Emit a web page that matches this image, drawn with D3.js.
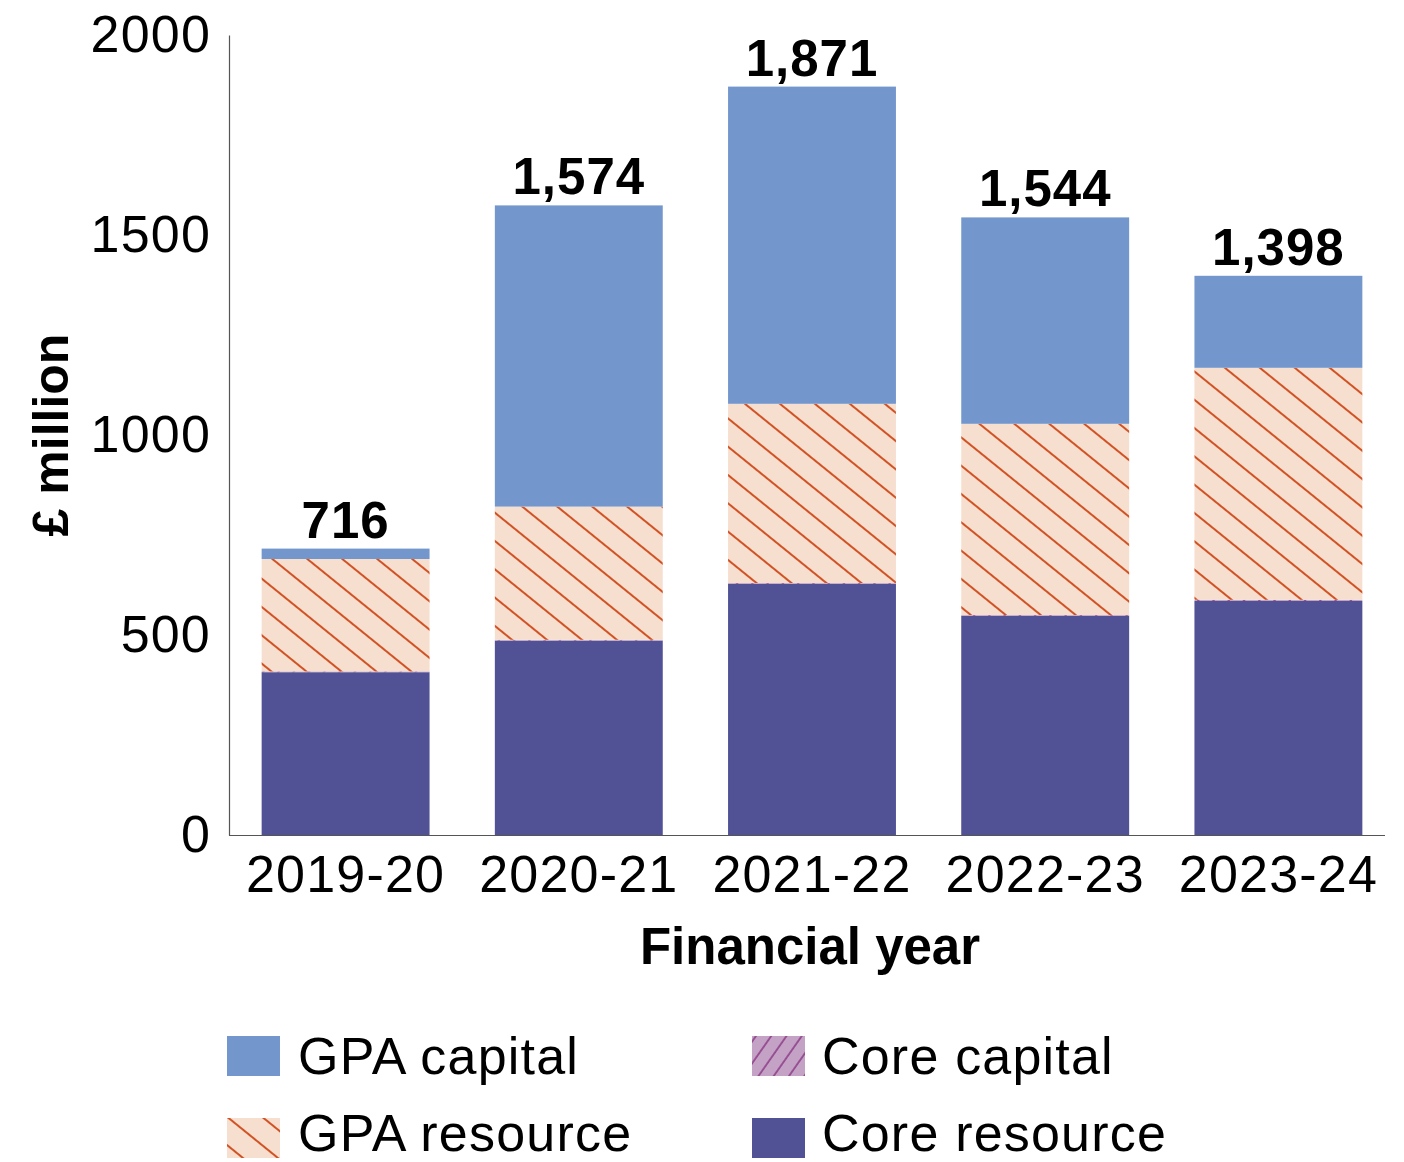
<!DOCTYPE html>
<html>
<head>
<meta charset="utf-8">
<script src="https://cdn.jsdelivr.net/npm/d3@7"></script>
<style>
  html, body { margin: 0; padding: 0; background: #fff; }
  svg text { font-family: "Liberation Sans", Arial, Helvetica, sans-serif; fill: #000; }
</style>
</head>
<body>
<svg id="chart" width="1404" height="1162"></svg>
<script>
const years = ["2019-20", "2020-21", "2021-22", "2022-23", "2023-24"];
const coreResource = [407, 486, 628, 548, 585];
const coreCapital = [2, 2, 2, 2, 3];
const gpaResource = [281, 333, 448, 478, 580];
const gpaCapital = [26, 753, 793, 516, 230];
const totals = [716, 1574, 1871, 1544, 1398];
const totalLabels = ["716", "1,574", "1,871", "1,544", "1,398"];
const yTicks = [0, 500, 1000, 1500, 2000];
const seriesNames = ["Core resource", "Core capital", "GPA resource", "GPA capital"];
const legendOrder = ["GPA capital", "Core capital", "GPA resource", "Core resource"];

const svg = d3.select("#chart");
const defs = svg.append("defs");

// hatch patterns
const pRes = defs.append("pattern")
  .attr("id", "hatchRes").attr("patternUnits", "userSpaceOnUse")
  .attr("width", 22).attr("height", 22)
  .attr("patternTransform", "rotate(-51)");
pRes.append("rect").attr("width", 22).attr("height", 22).attr("fill", "#F7DFCF");
pRes.append("line").attr("x1", 1).attr("y1", 0).attr("x2", 1).attr("y2", 22)
  .attr("stroke", "#CF4B1C").attr("stroke-width", 1.9);

const pCap = defs.append("pattern")
  .attr("id", "hatchCap").attr("patternUnits", "userSpaceOnUse")
  .attr("width", 12.5).attr("height", 12.5)
  .attr("patternTransform", "rotate(35)");
pCap.append("rect").attr("width", 12.5).attr("height", 12.5).attr("fill", "#C4A2C6");
pCap.append("line").attr("x1", 1).attr("y1", 0).attr("x2", 1).attr("y2", 12.5)
  .attr("stroke", "#86307F").attr("stroke-width", 1.4);

const fills = {
  "Core resource": "#515196",
  "Core capital": "url(#hatchCap)",
  "GPA resource": "url(#hatchRes)",
  "GPA capital": "#7397CD"
};

const x = d3.scaleBand().domain(years).range([229, 1395]).paddingInner(0.28).paddingOuter(0.14);
const y = d3.scaleLinear().domain([0, 2000]).range([835, 35]);

const rows = years.map((yr, i) => ({
  year: yr,
  "Core resource": coreResource[i],
  "Core capital": coreCapital[i],
  "GPA resource": gpaResource[i],
  "GPA capital": gpaCapital[i]
}));
const stacked = d3.stack().keys(seriesNames)(rows);

svg.append("g").selectAll("g").data(stacked).join("g")
  .attr("fill", d => fills[d.key])
  .selectAll("rect").data(d => d).join("rect")
  .attr("x", d => x(d.data.year))
  .attr("width", x.bandwidth())
  .attr("y", d => y(d[1]))
  .attr("height", d => y(d[0]) - y(d[1]));

// axes
const yAxis = d3.axisLeft(y).tickValues(yTicks).tickSize(0).tickPadding(18).tickFormat(d3.format("d"));
const gy = svg.append("g").attr("transform", "translate(229,0)").call(yAxis);
gy.select(".domain").attr("stroke", "#555").attr("stroke-width", 1.2);
gy.selectAll("text").attr("font-size", 52).attr("fill", "#000")
  .attr("letter-spacing", 1.2)
  .style("font-family", "Liberation Sans, Arial, sans-serif");

const xAxis = d3.axisBottom(x).tickSize(0).tickPadding(20);
const gx = svg.append("g").attr("transform", "translate(0,835)").call(xAxis);
gx.select(".domain").attr("d", "M229,0.5H1385").attr("stroke", "#555").attr("stroke-width", 1.2);
gx.selectAll("text").attr("font-size", 52).attr("fill", "#000")
  .attr("letter-spacing", 1.2)
  .style("font-family", "Liberation Sans, Arial, sans-serif");

// total labels
svg.append("g").selectAll("text").data(years).join("text")
  .attr("x", d => x(d) + x.bandwidth() / 2)
  .attr("y", (d, i) => y(totals[i]) - 11)
  .attr("text-anchor", "middle")
  .attr("font-size", 51).attr("font-weight", "bold")
  .attr("letter-spacing", 1)
  .text((d, i) => totalLabels[i]);

// axis titles
svg.append("text")
  .attr("transform", "translate(68,435) rotate(-90)")
  .attr("text-anchor", "middle")
  .attr("font-size", 50).attr("font-weight", "bold")
  .text("£ million");

svg.append("text")
  .attr("x", 810).attr("y", 964)
  .attr("text-anchor", "middle")
  .attr("font-size", 51).attr("font-weight", "bold")
  .text("Financial year");

// legend
const legendPos = [
  {sx: 227, sy: 1036, tx: 298, ty: 1074},
  {sx: 752, sy: 1036, tx: 822, ty: 1074},
  {sx: 227, sy: 1118, tx: 298, ty: 1151},
  {sx: 752, sy: 1118, tx: 822, ty: 1151}
];
const lg = svg.append("g").selectAll("g").data(legendOrder).join("g");
lg.append("rect")
  .attr("x", (d, i) => legendPos[i].sx).attr("y", (d, i) => legendPos[i].sy)
  .attr("width", 53).attr("height", 40)
  .attr("fill", d => fills[d]);
lg.append("text")
  .attr("x", (d, i) => legendPos[i].tx).attr("y", (d, i) => legendPos[i].ty)
  .attr("font-size", 52)
  .attr("letter-spacing", 1.2)
  .text(d => d);
</script>
</body>
</html>
